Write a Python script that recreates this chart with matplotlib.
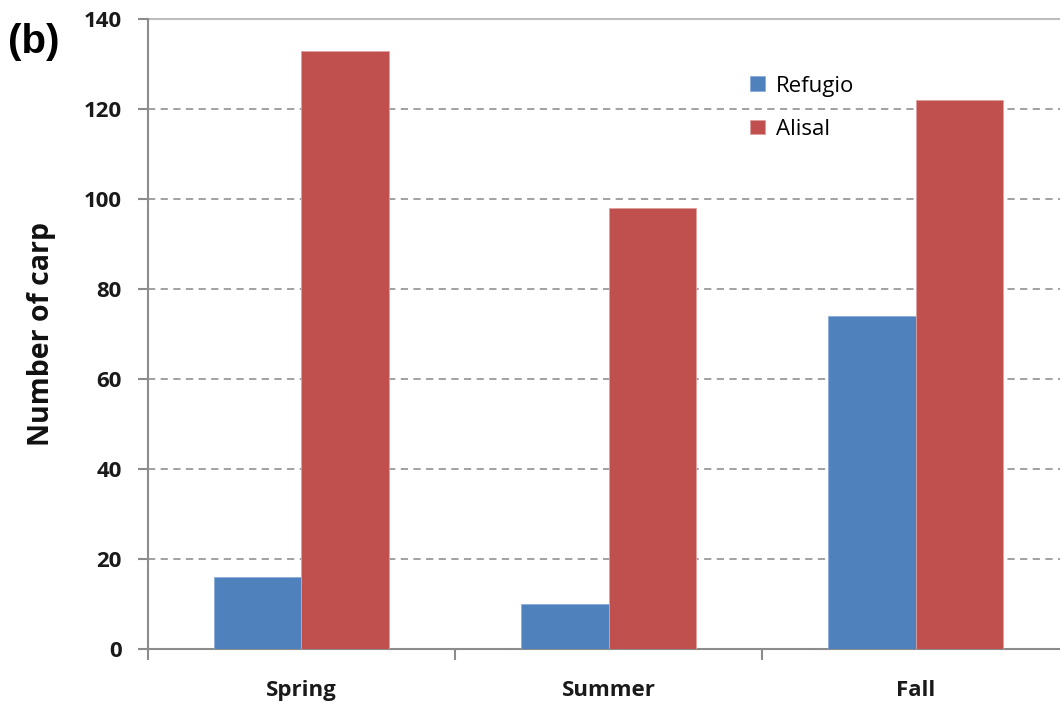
import matplotlib
matplotlib.use("Agg")
import matplotlib.pyplot as plt
import numpy as np

categories = ["Spring", "Summer", "Fall"]
refugio = [16, 10, 74]
alisal = [133, 98, 122]
yticks = [0, 20, 40, 60, 80, 100, 120, 140]

fig = plt.figure(figsize=(10.6, 7.02), dpi=100)
ax = fig.add_axes([0.1396, 0.0751, 0.869, 0.8978])

x = np.arange(len(categories))
w = 0.284
ax.bar(x - w/2, refugio, width=w, color="#4F81BD", edgecolor="#8CAEDB", linewidth=0.6, label="Refugio", zorder=3)
ax.bar(x + w/2, alisal, width=w, color="#C0504D", edgecolor="#E0A09E", linewidth=0.6, label="Alisal", zorder=3)

ax.set_xlim(-0.5, 2.5)
ax.set_ylim(0, 140)
ax.set_yticks(yticks)
ax.set_yticklabels([str(v) for v in yticks], fontsize=16, fontweight="bold", color="#1a1a1a", family="Open Sans")
for yv in yticks[1:-1]:
    ax.axhline(yv, color="#9a9a9a", linestyle=(0, (4, 3)), linewidth=1.3, zorder=1)
ax.axhline(140, color="#bdbdbd", linewidth=1.5, zorder=1, clip_on=False)

ax.set_xticks(x)
ax.set_xticklabels(categories, fontsize=16, fontweight="bold", color="#1a1a1a", family="Open Sans")
ax.tick_params(axis="x", which="major", length=0, pad=22)
ax.set_xticks([-0.5, 0.5, 1.5, 2.5], minor=True)
ax.tick_params(axis="x", which="minor", length=8, width=1.5, color="#8c8c8c", direction="out")
ax.tick_params(axis="y", length=7, width=1.5, color="#8c8c8c", direction="out", pad=12)

for s in ["top", "right"]:
    ax.spines[s].set_visible(False)
ax.spines["left"].set_color("#8c8c8c")
ax.spines["left"].set_linewidth(1.5)
ax.spines["bottom"].set_color("#8c8c8c")
ax.spines["bottom"].set_linewidth(1.5)

ax.set_ylabel("Number of carp", fontsize=20.5, fontweight="bold", family="Open Sans", labelpad=20, color="#111111")

leg = ax.legend(loc="upper left", bbox_to_anchor=(0.637, 0.935), frameon=False,
                prop={"family": "Open Sans", "size": 16}, handlelength=0.65, handleheight=0.65,
                handletextpad=0.5, labelspacing=1.0, borderpad=0.2)

fig.text(0.008, 0.94, "(b)", fontsize=29, fontweight="bold", family="Liberation Sans", ha="left", va="center")

fig.savefig("out.png", dpi=100)
